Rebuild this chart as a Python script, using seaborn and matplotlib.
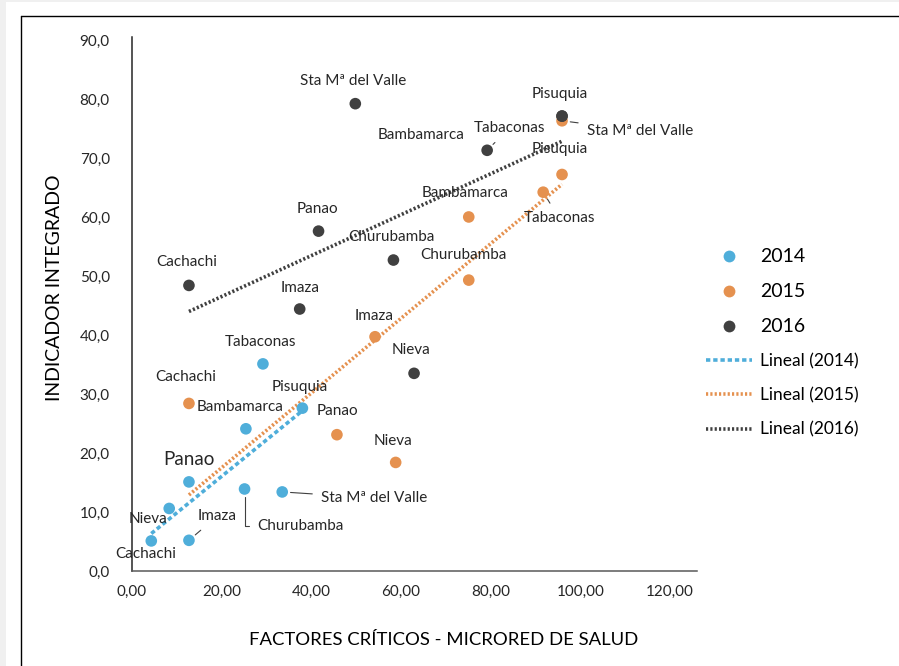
import numpy as np
import pandas as pd
import matplotlib.pyplot as plt
from matplotlib.lines import Line2D
from matplotlib.patches import Rectangle
from matplotlib.ticker import FuncFormatter, MultipleLocator
import seaborn as sns

# data
districts_2014 = ['Cachachi', 'Nieva', 'Imaza', 'Panao', 'Bambamarca', 'Churubamba', 'Sta Mª del Valle', 'Tabaconas', 'Pisuquia']
x_2014 = [4.3, 8.3, 12.7, 12.7, 25.4, 25.1, 33.5, 29.2, 38.0]
y_2014 = [5.1, 10.6, 5.2, 15.1, 24.1, 13.9, 13.4, 35.1, 27.6]

districts_2015 = ['Cachachi', 'Panao', 'Nieva', 'Imaza', 'Churubamba', 'Bambamarca', 'Tabaconas', 'Pisuquia', 'Sta Mª del Valle']
x_2015 = [12.7, 45.7, 58.8, 54.2, 75.1, 75.1, 91.7, 95.9, 95.9]
y_2015 = [28.4, 23.1, 18.4, 39.7, 49.3, 60.0, 64.2, 67.2, 76.3]

# Bambamarca 2016 sits under the Pisuquia 2016 marker
districts_2016 = ['Sta Mª del Valle', 'Bambamarca', 'Pisuquia', 'Tabaconas', 'Panao', 'Churubamba', 'Cachachi', 'Imaza', 'Nieva']
x_2016 = [49.8, 95.9, 95.9, 79.2, 41.6, 58.3, 12.7, 37.4, 62.9]
y_2016 = [79.2, 77.1, 77.1, 71.3, 57.6, 52.7, 48.4, 44.4, 33.5]

years = ['2014', '2015', '2016']
colors = {'2014': '#4FAEDA', '2015': '#E5914F', '2016': '#404040'}

# label offsets in pixels (dx, dy), and leader line style (None = no line)
off_2014 = [(-6, -13), (-21, -11), (28, 24), (0, 22), (-6, 22), (56, -37), (92, -6), (-2, 22), (-3, 21)]
lead_2014 = [None, None, 'arc3', None, None, 'angle,angleA=0,angleB=90,rad=0', 'arc3', None, None]
off_2015 = [(-3, 26), (1, 24), (-3, 21), (-1, 21), (-5, 25), (-4, 24), (16, -26), (-2, 25), (78, -10)]
lead_2015 = [None, None, None, None, None, None, 'arc3', None, 'arc3']
off_2016 = [(-2, 23), (-141, -19), (-2, 22), (22, 22), (-1, 22), (-2, 23), (-2, 23), (0, 21), (-3, 23)]
lead_2016 = [None, None, None, 'arc3', None, None, None, None, None]

df = pd.DataFrame({
    'x': x_2014 + x_2015 + x_2016,
    'y': y_2014 + y_2015 + y_2016,
    'year': ['2014'] * len(x_2014) + ['2015'] * len(x_2015) + ['2016'] * len(x_2016),
    'name': districts_2014 + districts_2015 + districts_2016,
})

sns.set_theme(style='white')
plt.rcParams['font.family'] = ['Lato', 'DejaVu Sans']

fig = plt.figure(figsize=(8.99, 6.66), dpi=100, facecolor='#f0f0f0')
W, H = 899, 666
fig.patches.append(Rectangle((6 / W, 0), 1, (H - 2) / H, transform=fig.transFigure,
                             facecolor='white', edgecolor='none', zorder=-10))
fig.add_artist(Line2D([21 / W, 1], [(H - 16) / H] * 2, color='black', lw=1))
fig.add_artist(Line2D([21 / W] * 2, [0, (H - 16) / H], color='black', lw=1))

ax = fig.add_axes([132 / W, 95 / H, (697 - 132) / W, (571 - 37) / H])
ax.set_zorder(2)
ax.set_facecolor('none')

# trend lines (Excel "Lineal")
styles = {'2014': (0, (1.2, 0.8)), '2015': (0, (0.6, 0.6)), '2016': (0, (0.6, 0.6))}
for yr in years:
    sub = df[df.year == yr]
    sns.regplot(data=sub, x='x', y='y', scatter=False, ci=None, truncate=True, ax=ax,
                line_kws={'color': colors[yr], 'lw': 2.6, 'linestyle': styles[yr]})

sns.scatterplot(data=df, x='x', y='y', hue='year', palette=colors, s=70,
                edgecolor='none', legend=False, ax=ax, zorder=3)

groups = [(x_2014, y_2014, districts_2014, off_2014, lead_2014),
          (x_2015, y_2015, districts_2015, off_2015, lead_2015),
          (x_2016, y_2016, districts_2016, off_2016, lead_2016)]
for xs, ys, names, offs, leads in groups:
    for xv, yv, nm, (dx, dy), ld in zip(xs, ys, names, offs, leads):
        fs = 11
        if nm == 'Panao' and xs is x_2014:
            fs = 13.5
        ax.annotate(nm, (xv, yv), xytext=(dx, dy), textcoords='offset pixels',
                    ha='center', va='center', fontsize=fs, color='#262626',
                    arrowprops=dict(arrowstyle='-', color='#404040', lw=0.8, connectionstyle=ld,
                                    shrinkA=4, shrinkB=6) if ld else None)

ax.set_xlim(0, 126)
ax.set_ylim(0, 90.5)
ax.yaxis.set_major_locator(MultipleLocator(10))
ax.set_xticks([0, 20, 40, 60, 80, 100, 120])
ax.xaxis.set_major_formatter(FuncFormatter(lambda v, p: f'{v:.2f}'.replace('.', ',')))
ax.yaxis.set_major_formatter(FuncFormatter(lambda v, p: f'{v:.1f}'.replace('.', ',')))
ax.tick_params(axis='both', length=0, labelsize=11, colors='#262626')
ax.tick_params(axis='y', pad=16)
ax.tick_params(axis='x', pad=10)
for s in ['top', 'right']:
    ax.spines[s].set_visible(False)
ax.spines['left'].set_color('#262626')
ax.spines['bottom'].set_color('#595959')
ax.spines['left'].set_linewidth(1.1)
ax.spines['bottom'].set_linewidth(1.1)

ax.set_xlabel('')
ax.set_ylabel('')
fig.text(444 / W, 1 - 640 / H, 'FACTORES CRÍTICOS - MICRORED DE SALUD', ha='center', va='center',
         fontsize=13.3, color='#000000')
fig.text(55 / W, 1 - 288 / H, 'INDICADOR INTEGRADO', ha='center', va='center', rotation=90,
         fontsize=14, color='#000000')

handles = [Line2D([], [], marker='o', color='none', markerfacecolor=colors[y], markeredgecolor='none',
                  markersize=8.5) for y in years]
handles += [Line2D([], [], color=colors[y], lw=2.6, linestyle=styles[y]) for y in years]
labels = years + [f'Lineal ({y})' for y in years]
leg = fig.legend(handles, labels, loc='upper left', bbox_to_anchor=(690 / W, 1 - 232 / H),
                 frameon=False, handlelength=2.55, handletextpad=0.45, labelspacing=1.0,
                 fontsize=13)
for i, t in enumerate(leg.get_texts()):
    t.set_fontsize(14 if i < 3 else 12.5)
    t.set_color('#000000')

fig.savefig('out.png', dpi=100, facecolor=fig.get_facecolor())
